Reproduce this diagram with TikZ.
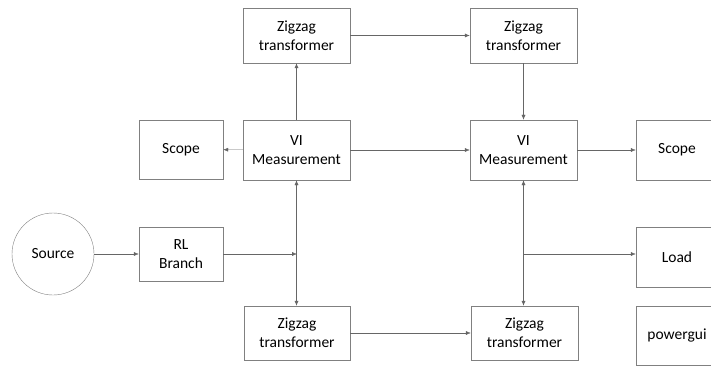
\documentclass[tikz,border=0pt]{standalone}
\usepackage{fontspec}
\setmainfont{Carlito}
\usetikzlibrary{arrows.meta,calc,positioning}

\begin{document}
\begin{tikzpicture}[x=1pt,y=-1pt,
		  blk/.style={draw=black!50,thin,align=center,inner sep=0pt,font=\fontsize{15.5}{19}\selectfont},
		  wire/.style={draw=black!60,thin,-{Latex[length=5pt,width=4pt]}},
		  wire2/.style={draw=black!60,thin,{Latex[length=5pt,width=4pt]}-{Latex[length=5pt,width=4pt]}}]
		  \clip (0,0) rectangle (711,366);
		  % top row
		  \node[blk,minimum width=107pt,minimum height=55pt] (zt1) at (296.5,35.5) {Zigzag\\transformer};
		  \node[blk,minimum width=107pt,minimum height=55pt] (zt2) at (523.5,35.5) {Zigzag\\transformer};
		  % measurement row
		  \node[blk,minimum width=84pt,minimum height=59pt] (scl) at (181,149.5) {Scope};
		  \node[blk,minimum width=107pt,minimum height=60pt] (vi1) at (296.5,150) {VI\\Measurement};
		  \node[blk,minimum width=107pt,minimum height=60pt] (vi2) at (523.5,150) {VI\\Measurement};
		  \node[blk,minimum width=82pt,minimum height=60pt] (scr) at (677,150) {Scope};
		  % source row
		  \node[blk,circle,minimum size=82pt] (src) at (53,254) {Source};
		  \node[blk,minimum width=84pt,minimum height=54pt] (rl) at (181,254) {RL\\Branch};
		  \node[blk,minimum width=82pt,minimum height=60pt] (load) at (677,257) {Load};
		  \coordinate (j1) at (297,254);
		  \coordinate (j2) at (524,254);
		  % bottom row
		  \node[blk,minimum width=106pt,minimum height=54pt] (zt3) at (297,333) {Zigzag\\transformer};
		  \node[blk,minimum width=107pt,minimum height=54pt] (zt4) at (524.5,333) {Zigzag\\transformer};
		  \node[blk,minimum width=82pt,minimum height=59pt] (pgui) at (677,335.5) {powergui};
		  % connections
		  \draw[wire] (zt1) -- (zt2);
		  \draw[wire] (vi1) -- (zt1);
		  \draw[wire] (vi1) -- (scl);
		  \draw[wire] (vi1) -- (vi2);
		  \draw[wire] (zt2) -- (vi2);
		  \draw[wire] (vi2) -- (scr);
		  \draw[wire] (src) -- (rl);
		  \draw[wire] (rl) -- (j1);
		  \draw[wire2] (vi1.south |- vi1.south) -- (vi1.south |- zt3.north);
		  \draw[wire] (zt3) -- (zt4);
		  \draw[wire2] (vi2.south) -- (vi2.south |- zt4.north);
		  \draw[wire] (j2) -- (j2 -| load.west);
		\end{tikzpicture}
\end{document}
